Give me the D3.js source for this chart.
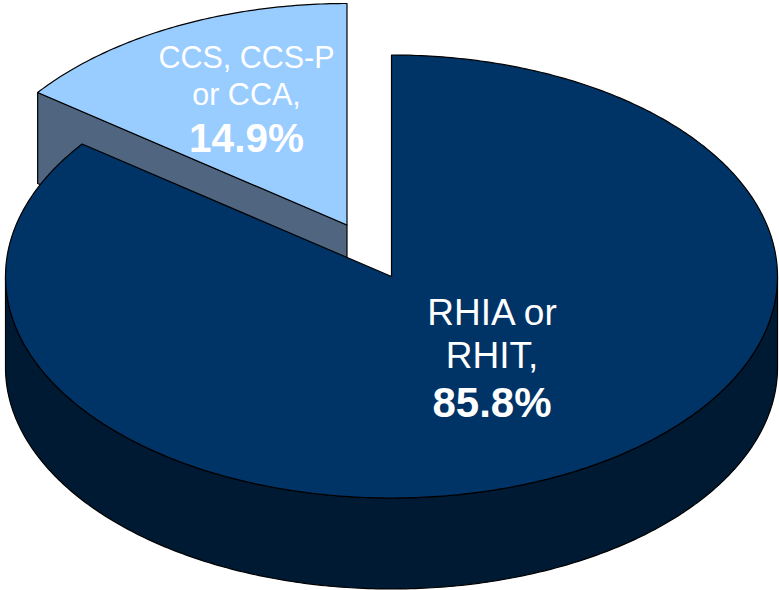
<!DOCTYPE html>
<html>
<head>
<meta charset="utf-8">
<script src="https://cdnjs.cloudflare.com/ajax/libs/d3/7.8.5/d3.min.js"></script>
<style>
html,body{margin:0;padding:0;background:#fff}
svg{display:block}
text{font-family:"Liberation Sans",Arial,sans-serif;fill:#fff;text-anchor:middle}
</style>
</head>
<body>
<svg id="chart" width="779" height="590"></svg>
<script>
const categories = ["RHIA or RHIT", "CCS, CCS-P or CCA"];
const values = [85.8, 14.9];
const topColors = ["#003366", "#99CCFF"];
const wallColors = ["#001A33", "#4F6580"];
const labelLines = [["RHIA or", "RHIT,"], ["CCS, CCS-P", "or CCA,"]];
const percentLabels = ["85.8%", "14.9%"];

const W = 779, H = 590;
const center = [391.5, 276.5];
const rx = 386, ry = 221.5, depth = 91;
const explode = [[0, 0], [-44.5, -51.5]];
const labelAnchors = [
  {x: 492, ys: [325, 367.5, 417], size: 37, bold: 42},
  {x: 246.5, ys: [67.5, 104.5, 152], size: 30.5, bold: 40.5}
];

const svg = d3.select("#chart");
const xS = d3.scaleLinear().domain([-1, 1]).range([center[0] - rx, center[0] + rx]);
const yS = d3.scaleLinear().domain([-1, 1]).range([center[1] + ry, center[1] - ry]);
const arcs = d3.pie().sort(null).startAngle(0).endAngle(2 * Math.PI)(values);
const line = d3.line();

function rim(a0, a1, off, dy) {
  const n = Math.max(2, Math.ceil(Math.abs(a1 - a0) * 90));
  return d3.range(n + 1).map(i => {
    const t = a0 + (a1 - a0) * i / n;
    return [xS(Math.sin(t)) + off[0], yS(Math.cos(t)) + off[1] + dy];
  });
}
function apex(off, dy) { return [xS(0) + off[0], yS(0) + off[1] + dy]; }

const order = [1, 0];
order.forEach(i => {
  const a = arcs[i], off = explode[i];
  const g = svg.append("g");
  const style = s => s.attr("stroke", "#000").attr("stroke-width", 1.2).attr("stroke-linejoin", "round");
  if (i === 1) {
    const end = rim(a.startAngle, a.startAngle, off, 0)[0];
    const endD = rim(a.startAngle, a.startAngle, off, depth)[0];
    g.append("path")
      .attr("d", line([apex(off, 0), end, endD, apex(off, depth)]) + "Z")
      .attr("fill", wallColors[i]).call(style);
  }
  if (i === 0) {
    const top = rim(Math.PI / 2, 3 * Math.PI / 2, off, 0);
    const bot = rim(3 * Math.PI / 2, Math.PI / 2, off, depth);
    g.append("path").attr("d", line(top.concat(bot)) + "Z")
      .attr("fill", wallColors[i]).call(style);
  }
  g.append("path")
    .attr("d", line([apex(off, 0)].concat(rim(a.startAngle, a.endAngle, off, 0))) + "Z")
    .attr("fill", topColors[i]).call(style);
});

labelLines.forEach((lines, i) => {
  const p = labelAnchors[i];
  lines.forEach((t, j) => {
    svg.append("text").attr("x", p.x).attr("y", p.ys[j])
      .attr("font-size", p.size).text(t);
  });
  svg.append("text").attr("x", p.x).attr("y", p.ys[2])
    .attr("font-size", p.bold).attr("font-weight", "bold").text(percentLabels[i]);
});
</script>
</body>
</html>
